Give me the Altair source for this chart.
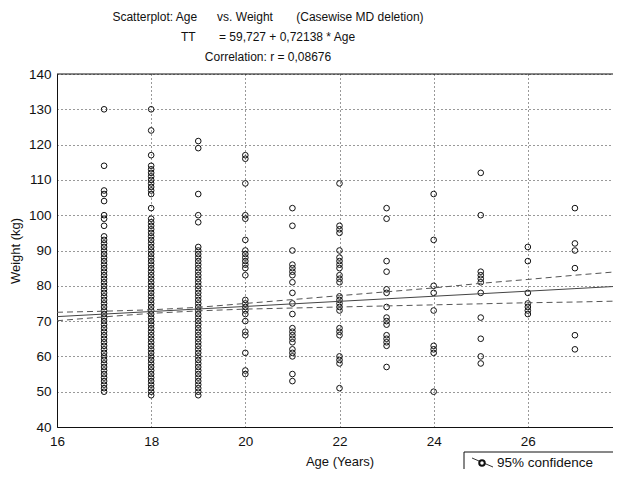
import altair as alt
import pandas as pd

# ---------------- data ----------------
ages = [17, 18, 19, 20, 21, 22, 23, 24, 25, 26, 27]

w17 = [130, 114, 107, 106, 104, 100, 99, 97, 94, 93, 92, 91, 90, 89, 88, 87, 86, 85,
       84, 83, 82, 81, 80, 79, 78, 77, 76, 75, 74, 73, 72, 71, 70, 69, 68, 67, 66,
       65, 64, 63, 62, 61, 60, 59, 58, 57, 56, 55, 54, 53, 52, 51, 50]
w18 = [130, 124, 117, 114, 113, 112, 111, 110, 109, 108, 107, 106, 102, 99, 98, 97,
       96, 95, 94, 93, 92, 91, 90, 89, 88, 87, 86, 85, 84, 83, 82, 81, 80, 79, 78,
       77, 76, 75, 74, 73, 72, 71, 70, 69, 68, 67, 66, 65, 64, 63, 62, 61, 60, 59,
       58, 57, 56, 55, 54, 53, 52, 51, 50, 49]
w19 = [121, 119, 106, 100, 98, 91, 90, 89, 88, 87, 86, 85, 84, 83, 82, 81, 80, 79,
       78, 77, 76, 75, 74, 73, 72, 71, 70, 69, 68, 67, 66, 65, 64, 63, 62, 61, 60,
       59, 58, 57, 56, 55, 54, 53, 52, 51, 50, 49]
w20 = [117, 116, 109, 100, 99, 93, 90, 89, 88, 87, 86, 85, 83, 76, 75, 74, 73, 72,
       70, 67, 66, 61, 56, 55]
w21 = [102, 97, 90, 86, 85, 84, 83, 81, 78, 75, 72, 68, 67, 66, 65, 64, 62, 61, 60,
       55, 53]
w22 = [109, 97, 96, 95, 90, 88, 87, 86, 85, 83, 82, 81, 77, 76, 75, 74, 73, 68, 67,
       66, 60, 59, 58, 51]
w23 = [102, 99, 87, 84, 79, 78, 74, 71, 70, 69, 66, 65, 64, 63, 57]
w24 = [106, 93, 80, 78, 73, 63, 62, 61, 50]
w25 = [112, 100, 84, 83, 82, 81, 78, 71, 65, 60, 58]
w26 = [91, 87, 78, 75, 74, 73, 72]
w27 = [102, 92, 90, 85, 66, 62]
weights = [w17, w18, w19, w20, w21, w22, w23, w24, w25, w26, w27]

fit_age = [16, 17, 18, 19, 20, 21, 22, 23, 24, 25, 26, 27, 28]
fit_mid = [71.27, 71.99, 72.71, 73.43, 74.15, 74.88, 75.60, 76.32, 77.04, 77.76,
           78.48, 79.20, 79.93]
fit_upper = [72.5, 72.8, 73.2, 73.9, 75.0, 76.1, 77.2, 78.3, 79.4, 80.7, 81.8, 83.0, 84.1]
fit_lower = [70.1, 71.2, 72.2, 72.9, 73.4, 73.7, 74.0, 74.3, 74.6, 74.9, 75.2, 75.4, 75.7]

title_lines = ["Scatterplot: Age\u00a0\u00a0\u00a0\u00a0\u00a0\u00a0vs. Weight\u00a0\u00a0\u00a0\u00a0\u00a0\u00a0\u00a0(Casewise MD deletion)",
               "TT\u00a0\u00a0\u00a0\u00a0\u00a0\u00a0\u00a0= 59,727 + 0,72138 * Age",
               "Correlation: r = 0,08676"]
x_ticks = [16, 18, 20, 22, 24, 26, 28]
y_ticks = [40, 50, 60, 70, 80, 90, 100, 110, 120, 130, 140]
legend_label = "95% confidence"

# ---------------- tables ----------------
rows = []
for a, ws in zip(ages, weights):
    for w in ws:
        rows.append({"Age": a, "Weight": w})
pts = pd.DataFrame(rows)
fit = pd.DataFrame({"Age": fit_age, "mid": fit_mid, "upper": fit_upper, "lower": fit_lower})
one = pd.DataFrame({"k": [0]})

FONT = "Liberation Sans"
W, H = 556, 353          # visible plot area (right part of the frame is cut off as in the reference)
XR = 565                 # pixel span of the 16..28 age range

xscale = alt.Scale(domain=[16, 28], nice=False, zero=False, range=[0, XR])
yscale = alt.Scale(domain=[40, 140], nice=False, zero=False)

xaxis = alt.Axis(values=x_ticks, title="Age (Years)", grid=True, ticks=False,
                 labelPadding=7, titlePadding=8, domain=True, labelFlush=False,
                 labelOverlap=False)
yaxis = alt.Axis(values=y_ticks, title="Weight (kg)", grid=True, ticks=False,
                 labelPadding=6, titlePadding=6, domain=True, labelFlush=False,
                 labelOverlap=False)


def X(field):
    return alt.X(field, type="quantitative", scale=xscale, axis=xaxis)


def Y(field):
    return alt.Y(field, type="quantitative", scale=yscale, axis=yaxis)


points = alt.Chart(pts).mark_point(shape="circle", filled=False, size=32,
                                   stroke="#111", strokeWidth=1, opacity=1).encode(
    x=X("Age"), y=Y("Weight"))

mid = alt.Chart(fit).mark_line(color="#444", strokeWidth=1).encode(
    x=X("Age"), y=Y("mid"))
up = alt.Chart(fit).mark_line(color="#555", strokeWidth=1, strokeDash=[6, 4]).encode(
    x=X("Age"), y=Y("upper"))
lo = alt.Chart(fit).mark_line(color="#555", strokeWidth=1, strokeDash=[6, 4]).encode(
    x=X("Age"), y=Y("lower"))

# top edge of the frame
top_edge = alt.Chart(one).mark_rule(color="#111", strokeWidth=1).encode(
    x=alt.value(0), x2=alt.value(640), y=alt.value(0))

# title lines (centred as in the reference)
title_layers = []
for txt, yy in zip(title_lines, [-57.5, -37, -17.5]):
    title_layers.append(
        alt.Chart(pd.DataFrame({"t": [txt]})).mark_text(
            font=FONT, fontSize=12, color="#111", align="center", baseline="middle"
        ).encode(x=alt.value(211), y=alt.value(yy), text="t:N")
    )

# legend box
leg_box = alt.Chart(one).mark_rect(fill="white", stroke="#111", strokeWidth=1).encode(
    x=alt.value(407), x2=alt.value(640), y=alt.value(378), y2=alt.value(410))
leg_line = alt.Chart(one).mark_rule(color="#333", strokeWidth=1).encode(
    x=alt.value(415), x2=alt.value(436), y=alt.value(384), y2=alt.value(393))
leg_pt = alt.Chart(one).mark_point(shape="circle", filled=True, fill="white",
                                   stroke="#111", size=30, opacity=1).encode(
    x=alt.value(425), y=alt.value(389))
leg_txt = alt.Chart(pd.DataFrame({"t": [legend_label]})).mark_text(
    font=FONT, fontSize=13.5, color="#111", align="left", baseline="middle").encode(
    x=alt.value(440), y=alt.value(389), text="t:N")

chart = alt.layer(points, mid, up, lo, top_edge, *title_layers,
                  leg_box, leg_line, leg_pt, leg_txt).properties(
    width=W, height=H,
    autosize=alt.AutoSizeParams(type="none"),
    padding={"left": 49, "top": 66, "right": 0, "bottom": 42},
    background="white",
).configure_view(
    strokeWidth=0
).configure_axis(
    labelFont=FONT, titleFont=FONT, labelFontSize=13.5, titleFontSize=13,
    labelColor="#111", titleColor="#111", titleFontWeight="normal",
    domainColor="#111", domainWidth=1,
    gridColor="#333", gridDash=[1, 3], gridWidth=1, gridOpacity=1,
)

chart.save("out.html", embed_options={"renderer": "svg", "actions": False})
